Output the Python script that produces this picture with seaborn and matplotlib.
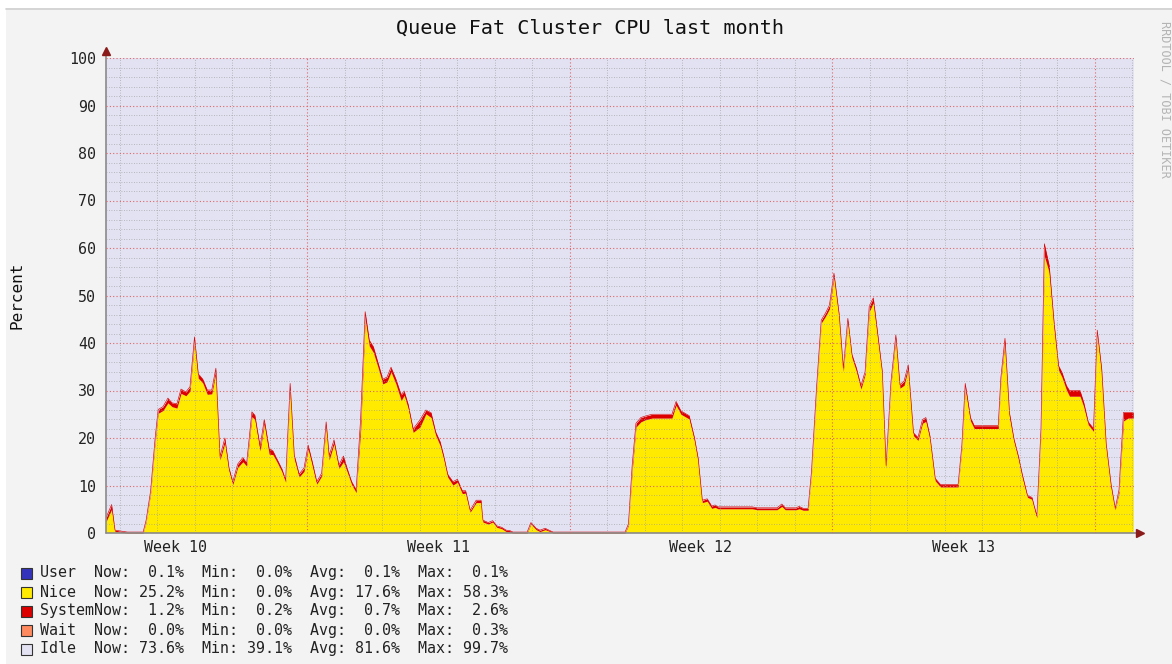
import numpy as np
import seaborn as sns
import matplotlib.pyplot as plt
from matplotlib.patches import Rectangle
from matplotlib.lines import Line2D

# data: x = days since the start of Week 10 (Monday 00:00)
days = [1.64, 1.79, 1.88, 2.21, 2.63, 2.71, 2.83, 2.95, 3.03, 3.16, 3.29, 3.40, 3.53, 3.64, 3.77, 3.88,
        4.00, 4.10, 4.22, 4.34, 4.46, 4.57, 4.68, 4.81, 4.92, 5.02, 5.15, 5.29, 5.39, 5.53, 5.61, 5.75,
        5.86, 5.99, 6.09, 6.19, 6.33, 6.43, 6.55, 6.66, 6.79, 6.92, 7.03, 7.14, 7.26, 7.39, 7.51, 7.59,
        7.72, 7.85, 7.97, 8.07, 8.19, 8.31, 8.43, 8.55, 8.66, 8.77, 8.90, 9.02, 9.13, 9.24, 9.37, 9.51,
        9.59, 9.70, 9.83, 10.01, 10.17, 10.31, 10.43, 10.55, 10.65, 10.75, 10.89, 11.01, 11.14, 11.23,
        11.35, 11.51, 11.64, 11.69, 11.83, 11.95, 12.06, 12.19, 12.31, 12.41, 12.49, 12.87, 12.97, 13.11,
        13.21, 13.35, 13.45, 13.56, 15.48, 15.57, 15.67, 15.77, 15.90, 16.01, 16.20, 16.73, 16.84, 16.97,
        17.08, 17.19, 17.33, 17.43, 17.54, 17.67, 17.79, 17.88, 17.96, 18.87, 19.00, 19.53, 19.66, 19.75,
        20.04, 20.12, 20.23, 20.36, 20.45, 20.59, 20.71, 20.83, 20.93, 21.05, 21.19, 21.30, 21.42, 21.53,
        21.65, 21.77, 21.88, 21.99, 22.10, 22.23, 22.34, 22.44, 22.57, 22.70, 22.81, 22.92, 23.03, 23.17,
        23.29, 23.41, 23.50, 23.61, 23.75, 23.89, 24.36, 24.46, 24.55, 24.69, 24.79, 25.43, 25.50, 25.61,
        25.73, 25.85, 25.97, 26.07, 26.21, 26.33, 26.46, 26.57, 26.66, 26.79, 26.92, 27.04, 27.13, 27.25,
        27.33, 27.61, 27.71, 27.83, 27.97, 28.07, 28.19, 28.31, 28.44, 28.55, 28.65, 28.77, 28.89, 29.03]

# user + nice + system (top of the red band)
busy = [3.2, 6.0, 0.6, 0.2, 0.2, 2.7, 8.9, 20.0, 26.0, 26.6, 28.4, 27.4, 27.2, 30.3, 29.7, 30.8,
        41.3, 33.5, 32.4, 30.1, 30.1, 34.7, 16.1, 20.0, 13.7, 10.8, 14.5, 15.9, 14.7, 25.5, 24.8, 18.2,
        23.9, 17.8, 17.3, 15.7, 13.5, 11.2, 31.5, 16.4, 12.4, 13.7, 18.5, 15.0, 10.8, 12.6, 23.4, 16.3,
        19.6, 14.3, 16.2, 13.6, 10.8, 9.1, 24.2, 46.6, 40.6, 39.2, 35.7, 32.4, 32.8, 34.9, 32.4, 29.1,
        29.9, 27.0, 21.9, 23.8, 25.9, 25.3, 21.3, 19.2, 16.1, 12.4, 10.8, 11.3, 8.9, 8.9,
        4.8, 6.9, 6.9, 2.7, 2.2, 2.6, 1.5, 1.2, 0.6, 0.5, 0.2, 0.2, 2.2, 1.0,
        0.6, 1.0, 0.6, 0.2, 0.2, 1.9, 14.3, 23.1, 24.3, 24.6, 25.0, 25.0, 27.7, 25.7,
        25.2, 24.7, 20.1, 15.7, 6.9, 7.2, 5.7, 5.9, 5.5, 5.5, 5.3, 5.3, 6.1, 5.3,
        5.3, 5.6, 5.2, 5.2, 12.9, 31.2, 44.8, 46.4, 48.0, 54.7, 46.0, 34.7, 45.2, 37.6,
        34.7, 31.0, 34.0, 47.8, 49.5, 41.1, 34.0, 14.2, 31.9, 41.7, 31.2, 32.0, 35.4, 21.1,
        20.1, 23.9, 24.3, 20.4, 11.5, 10.2, 10.2, 18.5, 31.5, 24.3, 22.6, 22.6, 32.7, 41.0,
        25.3, 19.8, 16.1, 12.4, 7.9, 7.5, 3.6, 22.0, 60.9, 56.3, 44.3, 35.2, 33.8, 31.0,
        30.0, 30.0, 27.5, 23.4, 22.0, 42.7, 34.5, 18.7, 10.2, 5.2, 9.1, 25.4, 25.4, 25.4]

system = [0.8, 1.0, 0.3, 0.2, 0.2, 0.3, 0.5, 0.8, 0.8, 0.8, 1.0, 0.8, 0.9, 0.9, 0.8, 0.9,
          0.9, 0.9, 0.8, 0.9, 0.8, 1.0, 0.7, 1.0, 0.6, 0.6, 0.7, 0.9, 0.6, 1.0, 0.9, 0.9,
          0.9, 1.2, 0.8, 0.6, 0.6, 0.5, 1.0, 0.8, 0.6, 0.7, 0.8, 0.8, 0.5, 0.6, 0.8, 0.9,
          0.8, 0.7, 1.2, 0.7, 0.6, 0.6, 2.5, 1.5, 1.2, 1.2, 1.0, 1.0, 1.0, 1.0, 1.0, 1.2,
          0.9, 0.8, 0.7, 1.5, 0.8, 1.0, 0.7, 0.8, 0.6, 0.6, 0.7, 0.6, 0.6, 0.5,
          0.4, 0.5, 0.5, 0.4, 0.3, 0.3, 0.3, 0.3, 0.3, 0.3, 0.2, 0.2, 0.3, 0.3,
          0.3, 0.3, 0.2, 0.2, 0.2, 0.3, 1.2, 0.8, 0.9, 0.8, 0.8, 0.8, 0.8, 0.7,
          0.7, 0.7, 0.6, 0.6, 0.5, 0.5, 0.5, 0.5, 0.4, 0.4, 0.4, 0.4, 0.5, 0.4,
          0.4, 0.5, 0.4, 0.4, 0.5, 0.6, 0.6, 0.7, 0.8, 0.8, 0.7, 0.7, 0.7, 0.7,
          0.7, 0.7, 0.6, 1.2, 1.0, 0.9, 0.6, 0.5, 0.6, 0.8, 0.7, 0.9, 0.8, 0.6,
          0.6, 0.8, 0.8, 0.6, 0.5, 0.5, 0.5, 0.6, 1.0, 0.7, 0.6, 0.6, 0.6, 1.0,
          0.8, 0.5, 0.5, 0.6, 0.4, 0.4, 0.4, 0.8, 2.6, 1.5, 1.0, 0.9, 1.0, 0.9,
          1.2, 1.2, 0.9, 0.6, 0.6, 0.7, 1.0, 0.6, 0.6, 0.3, 0.6, 1.8, 1.2, 1.2]

user_pct = 0.1

week_starts = [0, 7, 14, 21, 28]
week_names = ["Week 10", "Week 11", "Week 12", "Week 13"]

# legend table (name, now, min, avg, max)
series = ["User", "Nice", "System", "Wait", "Idle"]
colors = ["#3333bb", "#ffea00", "#dd0000", "#ff8a60", "#e2e2f2"]
now_v = [0.1, 25.2, 1.2, 0.0, 73.6]
min_v = [0.0, 0.0, 0.2, 0.0, 39.1]
avg_v = [0.1, 17.6, 0.7, 0.0, 81.6]
max_v = [0.1, 58.3, 2.6, 0.3, 99.7]

assert len(days) == len(busy) == len(system)

sns.set_theme(style="white")
plt.rcParams['font.family'] = ['DejaVu Sans Mono']

x = np.array(days)
top = np.array(busy)
sysv = np.array(system)
nice_top = top - sysv

W, H = 1172, 664
fig = plt.figure(figsize=(W / 100, H / 100), dpi=100, facecolor="#f3f3f3")
ax = fig.add_axes([106 / W, 1 - 533 / H, 1028 / W, 475 / H])
ax.set_facecolor(colors[4])

# stacked areas: user, nice, system, idle
ax.fill_between(x, 0, user_pct, color=colors[0], lw=0, zorder=1)
ax.fill_between(x, user_pct, nice_top, color=colors[1], lw=0, zorder=1)
ax.fill_between(x, nice_top, top, color=colors[2], lw=0, zorder=1)
ax.fill_between(x, top, 100, color=colors[4], lw=0, zorder=1)
# thin system-coloured edge along the top of the stack
sns.lineplot(x=x, y=top, ax=ax, color=colors[2], linewidth=0.45, legend=False, zorder=1.5)

ax.set_xlim(1.64, 29.05)
ax.set_ylim(0, 100)

# grid on top of the data, like rrdtool
ax.set_axisbelow(False)
ax.set_xticks(week_starts[1:])
ax.set_xticks([d for d in range(2, 30) if d % 7], minor=True)
ax.set_yticks(range(0, 101, 10))
ax.set_yticks(range(0, 101, 2), minor=True)
ax.set_xticklabels([])
ax.grid(which="major", color="#e06666", linestyle=(0, (1, 2)), linewidth=0.8)
ax.grid(which="minor", color="#9a9a9a", linestyle=(0, (1, 2)), linewidth=0.6, alpha=0.8)
ax.tick_params(axis="y", which="major", length=2, pad=5, labelsize=10.8, colors="#222222")
ax.tick_params(axis="y", which="minor", length=2, color="#999999")
ax.tick_params(axis="x", which="major", length=4, color="#e06666")
ax.tick_params(axis="x", which="minor", length=3, color="#999999")
ax.tick_params(axis="y", which="major", color="#999999")
for s in ax.spines.values():
    s.set_visible(False)

# axis lines with the little rrdtool arrows
ax.add_line(Line2D([0, 0], [0, 1.013], transform=ax.transAxes, color="#8a8a8a", lw=1.2, clip_on=False))
ax.add_line(Line2D([0, 1.006], [0, 0], transform=ax.transAxes, color="#8a8a8a", lw=1.2, clip_on=False))
ax.plot([0], [1.015], marker="^", color="#8b1a1a", markersize=6, transform=ax.transAxes, clip_on=False)
ax.plot([1.006], [0], marker=">", color="#8b1a1a", markersize=6, transform=ax.transAxes, clip_on=False)

for ws, name in zip(week_starts, week_names):
    ax.text(ws + 3.5, -15 / 475, name, transform=ax.get_xaxis_transform(),
            ha="center", va="center", fontsize=10.8, color="#222222")

fig.text(0.503, 1 - 28 / H, "Queue Fat Cluster CPU last month", ha="center", va="center",
         fontsize=14.5, color="#111111")
fig.text(17 / W, 1 - 295 / H, "Percent", rotation=90, ha="center", va="center",
         fontsize=11.5, color="#111111")
fig.text(1165 / W, 1 - 99 / H, "RRDTOOL / TOBI OETIKER", rotation=270, ha="center", va="center",
         fontsize=8.5, color="#b4b4b4")

# legend rows
for i, name in enumerate(series):
    yc = 573 + 19 * i
    fig.patches.append(Rectangle((21 / W, 1 - (yc + 6) / H), 11 / W, 11 / H, transform=fig.transFigure,
                                 facecolor=colors[i], edgecolor="#333333", lw=0.8))
    row = f"{name:<6}Now:{now_v[i]:5.1f}%  Min:{min_v[i]:5.1f}%  Avg:{avg_v[i]:5.1f}%  Max:{max_v[i]:5.1f}%"
    fig.text(40 / W, 1 - yc / H, row, ha="left", va="center", fontsize=10.8, color="#222222")

# white margin and shade line at the top/left edge
fig.patches.append(Rectangle((0, 1 - 8 / H), 1, 8 / H, transform=fig.transFigure, facecolor="white", lw=0))
fig.patches.append(Rectangle((0, 0), 6 / W, 1, transform=fig.transFigure, facecolor="white", lw=0))
fig.lines.append(Line2D([6 / W, 1], [1 - 8.5 / H, 1 - 8.5 / H], transform=fig.transFigure,
                        color="#cfcfcf", lw=1.2))

fig.savefig("out.png", dpi=100, facecolor=fig.get_facecolor())
